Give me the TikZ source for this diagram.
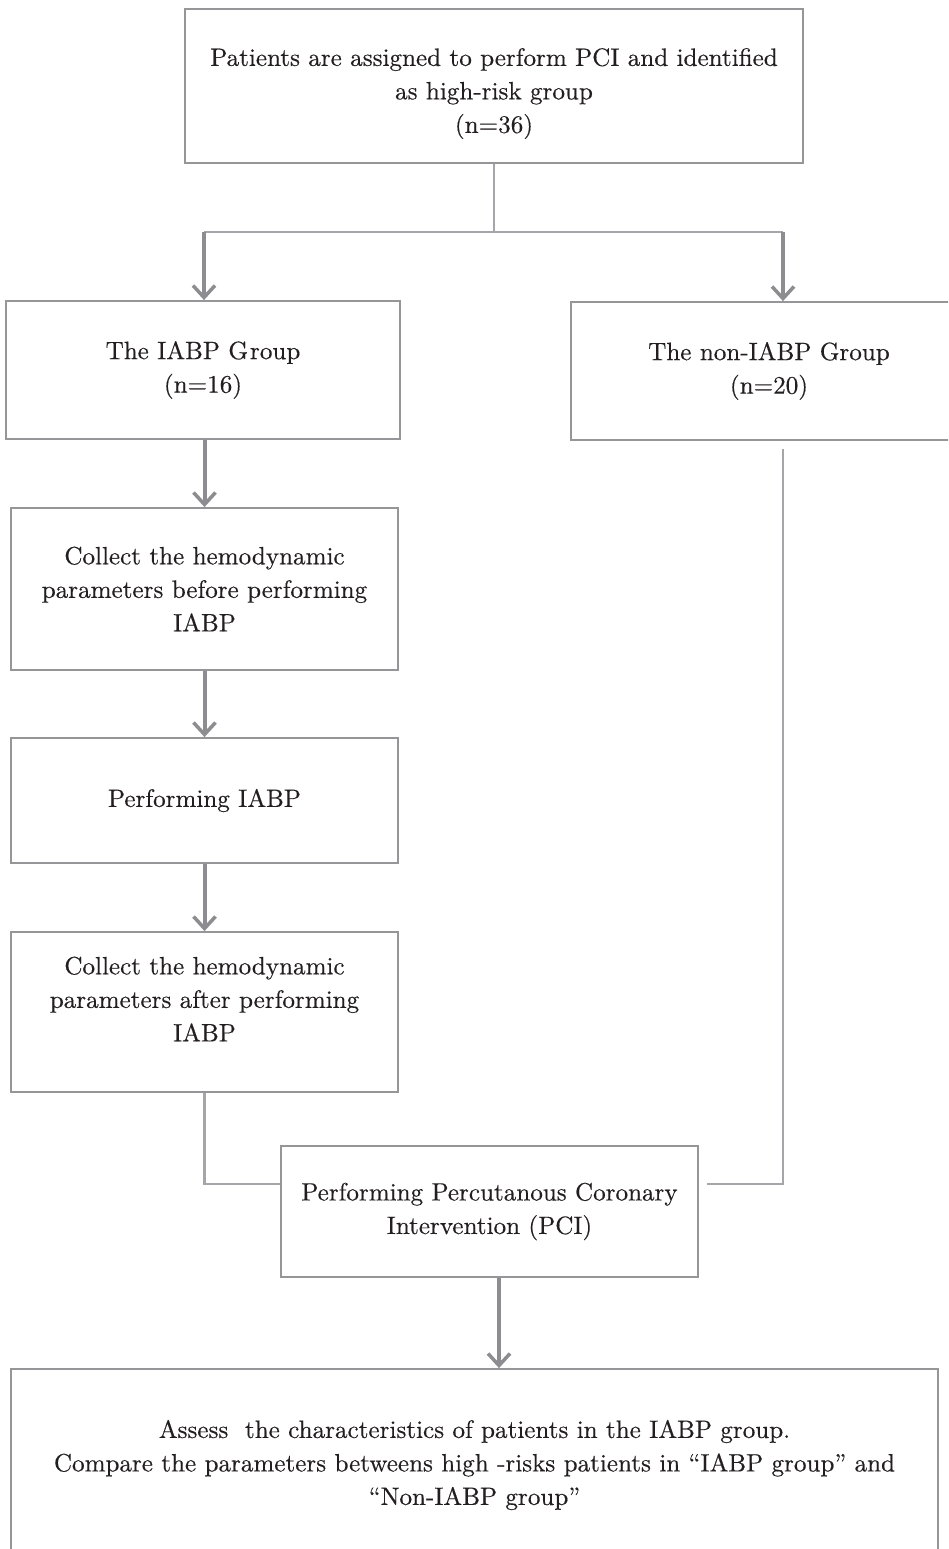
\documentclass[tikz,border=0pt]{standalone}
\usepackage{fontspec}
\setmainfont{lmroman10-regular.otf}[FakeBold=0.4]
\usetikzlibrary{arrows.meta}
\definecolor{boxgray}{RGB}{150,150,152}
\definecolor{arrgray}{RGB}{140,140,145}
\definecolor{linegray}{RGB}{165,165,170}
\definecolor{txt}{RGB}{35,31,32}
\begin{document}
\begin{tikzpicture}[x=1pt,y=-1pt,
  box/.style={draw=boxgray, line width=1.8pt, inner sep=0pt, align=center, text=txt,
              font=\fontsize{25.1}{33.5}\selectfont},
  conn/.style={draw=linegray, line width=2.2pt},
  arr/.style={draw=arrgray, line width=4pt,
              -{Straight Barb[length=12pt,width=22pt,line width=3.5pt]}}]
\useasboundingbox (0,0) rectangle (948,1549);
\clip (0,0) rectangle (948,1549);

\node[box, minimum width=618pt, minimum height=154pt] (top) at (494,86)
  {\rule{0pt}{33pt}Patients are assigned to perform PCI and identified\\ as high-risk group\\ (n=36)};
\node[box, minimum width=394pt, minimum height=138pt] (iabp) at (203,370)
  {The IABP G\kern2pt roup\\ (n=16)};
\node[box, minimum width=396pt, minimum height=138pt] (non) at (769,371)
  {The non-IABP Group\\ (n=20)};
\node[box, minimum width=387pt, minimum height=162pt] (c1) at (204.5,589)
  {Collect the hemodynamic\\ parameters before performing\\ IABP};
\node[box, minimum width=387pt, minimum height=125pt] (perf) at (204.5,800.5)
  {Performing IABP};
\node[box, minimum width=387pt, minimum height=160pt] (c2) at (204.5,1012)
  {Collect the hemodynamic\\ parameters after performing\\ IABP\rule[-26pt]{0pt}{0pt}};
\node[box, minimum width=417pt, minimum height=131pt] (pci) at (489.5,1211.5)
  {Performing Percutanous Coronary\\ Intervention (PCI)};
\node[box, minimum width=927pt, minimum height=192pt] (bot) at (474.5,1465)
  {Assess\ \ the characteristics of patients in the IABP group.\\
   Compare the parameters betweens high -risks patients in ``IABP group'' and\\
   ``Non-IABP group''};

\coordinate (split) at (494,232);
\coordinate (splitL) at (204,232);
\coordinate (splitR) at (783,232);
\coordinate (pcx) at (499,0);

\draw[conn] (top.south) -- (split);
\draw[conn] (splitL) -- (splitR);
\draw[arr] (splitL) -- (splitL |- iabp.north);
\draw[arr] (splitR) -- (splitR |- non.north);
\draw[arr] (iabp.south -| c1.north) -- (c1.north);
\draw[arr] (c1.south) -- (perf.north);
\draw[arr] (perf.south) -- (c2.north);

\path (non.south -| splitR) ++(0,8) coordinate (rtop);
\path (pci.east |- 0,1184) ++(8,0) coordinate (rend);
\draw[conn] (c2.south) |- (pci.west |- 0,1184);
\draw[conn] (rtop) |- (rend);
\draw[arr] (pci.south -| pcx) -- (bot.north -| pcx);
\end{tikzpicture}
\end{document}
